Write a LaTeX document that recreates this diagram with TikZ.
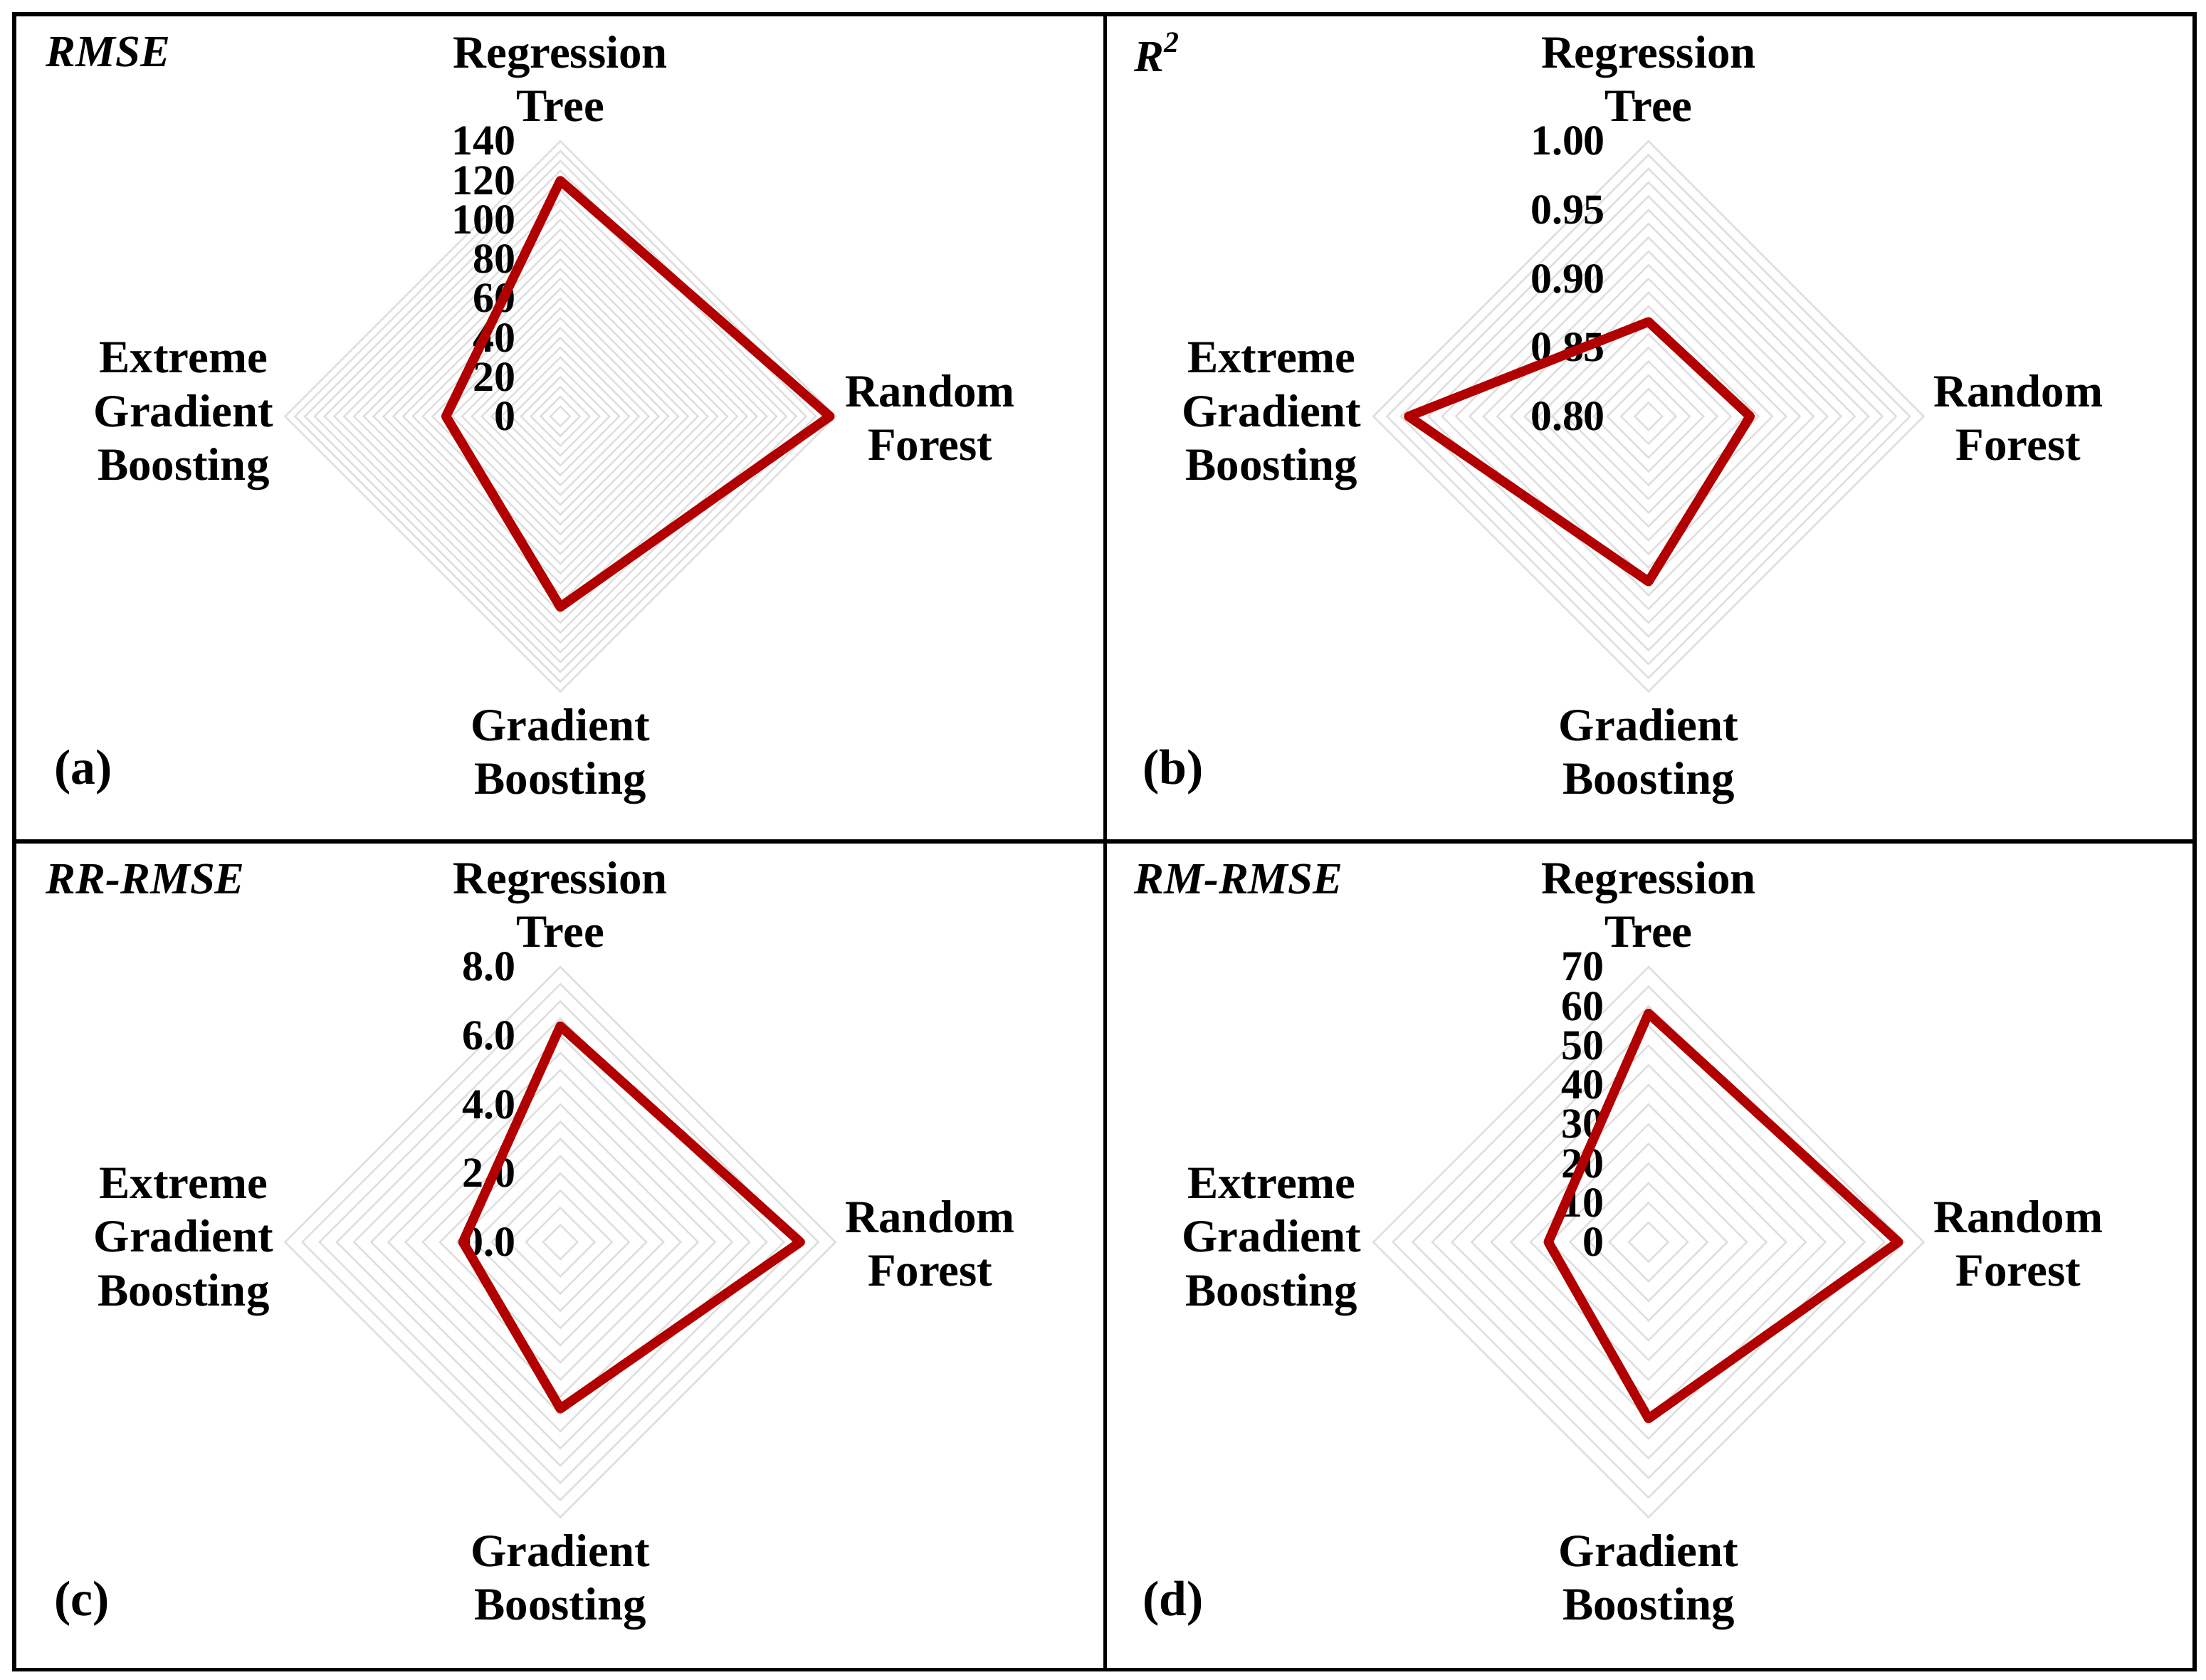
\documentclass[tikz,border=0pt]{standalone}
\usepackage{fontspec}
\setmainfont{Liberation Serif}
\begin{document}
\begin{tikzpicture}[x=0.01cm,y=-0.01cm,
  cat/.style={font=\bfseries\fontsize{9.3}{10.8}\selectfont,align=center,inner sep=0},
  tick/.style={font=\bfseries\fontsize{8.6}{10}\selectfont,anchor=east,inner sep=0},
  ttl/.style={font=\bfseries\itshape\fontsize{9}{10}\selectfont,anchor=west,inner sep=0},
  lab/.style={font=\bfseries\fontsize{10}{12}\selectfont,anchor=west,inner sep=0},
  grid/.style={draw=black!13,line width=0.35pt},
  data/.style={draw=red!70!black,line width=1.9pt,line join=round}]
\useasboundingbox (0,0) rectangle (1563,1190);
\draw[line width=0.8pt] (10,10) rectangle (1555,1183);
\draw[line width=0.8pt] (783,10) -- (783,1183);
\draw[line width=0.8pt] (10,596) -- (1555,596);
% #1 cx #2 cy #3 number of grid rings
\newcommand\mygrid[3]{%
  \foreach \k in {1,...,#3}{\pgfmathsetmacro\r{195*\k/#3}
    \draw[grid] (#1,#2-\r) -- (#1+\r,#2) -- (#1,#2+\r) -- (#1-\r,#2) -- cycle;}}
\newcommand\mycats[3]{%
  \node[cat] (#3rt) at (#1,#2-239) {Regression\\Tree};
  \node[cat] (#3rf) at (#1+262,#2+1) {Random\\Forest};
  \node[cat] (#3xg) at (#1-267,#2) {Extreme\\Gradient\\Boosting};
  \node[cat] (#3gb) at (#1,#2+241) {Gradient\\Boosting};}
% panel a
\mygrid{397}{295}{28}
\mycats{397}{295}{a}
\foreach \v [count=\i from 0] in {0,20,40,60,80,100,120,140}
  \node[tick] (ta\i) at (366,295-\i*195/7) {\v};
\coordinate (a1) at (397,128); \coordinate (a2) at (588,295);
\coordinate (a3) at (397,430); \coordinate (a4) at (316,295);
\draw[data] (a1) -- (a2) -- (a3) -- (a4) -- cycle;
\node[ttl] (tta) at (32,37) {RMSE};
\node[lab] (la) at (38,547) {(a)};
% panel b
\mygrid{1168}{295}{20}
\mycats{1168}{295}{b}
\foreach \v [count=\i from 0] in {0.80,0.85,0.90,0.95,1.00}
  \node[tick] (tb\i) at (1138,295-\i*195/4) {\v};
\coordinate (b1) at (1168,228); \coordinate (b2) at (1240,295);
\coordinate (b3) at (1168,412); \coordinate (b4) at (998,295);
\draw[data] (b1) -- (b2) -- (b3) -- (b4) -- cycle;
\node[ttl] (ttb) at (803,37) {R\textsuperscript{\fontsize{6}{6}\selectfont 2}};
\node[lab] (lb) at (809,547) {(b)};
% panel c
\mygrid{397}{880}{16}
\mycats{397}{880}{c}
\foreach \v [count=\i from 0] in {0.0,2.0,4.0,6.0,8.0}
  \node[tick] (tc\i) at (366,880-\i*195/4) {\v};
\coordinate (c1) at (397,727); \coordinate (c2) at (567,880);
\coordinate (c3) at (397,998); \coordinate (c4) at (328,880);
\draw[data] (c1) -- (c2) -- (c3) -- (c4) -- cycle;
\node[ttl] (ttc) at (32,623) {RR-RMSE};
\node[lab] (lc) at (38,1136) {(c)};
% panel d
\mygrid{1168}{880}{14}
\mycats{1168}{880}{d}
\foreach \v [count=\i from 0] in {0,10,20,30,40,50,60,70}
  \node[tick] (td\i) at (1137,880-\i*195/7) {\v};
\coordinate (d1) at (1168,718); \coordinate (d2) at (1345,880);
\coordinate (d3) at (1168,1005); \coordinate (d4) at (1097,880);
\draw[data] (d1) -- (d2) -- (d3) -- (d4) -- cycle;
\node[ttl] (ttd) at (803,623) {RM-RMSE};
\node[lab] (ld) at (809,1136) {(d)};
\end{tikzpicture}
\end{document}
